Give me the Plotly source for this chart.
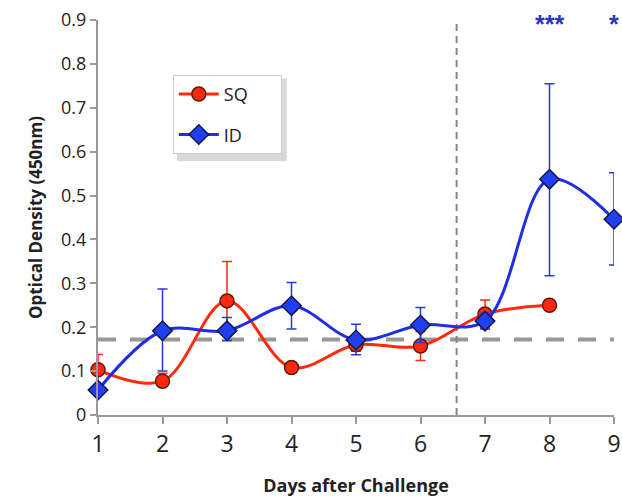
import plotly.graph_objects as go

days = [1, 2, 3, 4, 5, 6, 7, 8, 9]
sq_days = [1, 2, 3, 4, 5, 6, 7, 8]
sq_vals = [0.103, 0.077, 0.26, 0.108, 0.16, 0.157, 0.23, 0.25]
sq_err_up = [0.035, 0.018, 0.09, 0.012, 0.015, 0.033, 0.032, 0.0]
sq_err_dn = [0.035, 0.012, 0.09, 0.012, 0.015, 0.033, 0.032, 0.0]
id_vals = [0.057, 0.192, 0.192, 0.249, 0.171, 0.205, 0.214, 0.537, 0.446]
id_err_up = [0.0, 0.095, 0.03, 0.053, 0.036, 0.04, 0.018, 0.218, 0.106]
id_err_dn = [0.0, 0.092, 0.022, 0.053, 0.034, 0.04, 0.018, 0.22, 0.104]
baseline = 0.172
cutoff_day = 6.56
stars = ["***", "*"]
star_days = [8, 9]
pad = "\u00a0" * 6

fig = go.Figure()

fig.add_trace(go.Scatter(
    x=[1, 9], y=[baseline, baseline], mode="lines",
    line=dict(color="#999999", width=4, dash="18px,14px"),
    showlegend=False, hoverinfo="skip"))

fig.add_trace(go.Scatter(
    x=[cutoff_day, cutoff_day], y=[0, 0.9], mode="lines",
    line=dict(color="#888888", width=2, dash="7px,5px"),
    showlegend=False, hoverinfo="skip"))

fig.add_trace(go.Scatter(
    x=sq_days, y=sq_vals, name="SQ" + pad, mode="lines+markers", legendgroup="sq",
    cliponaxis=False,
    line=dict(color="#ff2a0e", width=3, shape="spline", smoothing=1),
    marker=dict(symbol="circle", size=14, color="#ff2a0e",
                line=dict(color="#5a1a10", width=1.5)),
    error_y=dict(type="data", array=sq_err_up, arrayminus=sq_err_dn,
                 color="#ff2a0e", thickness=1.5, width=5)))

fig.add_trace(go.Scatter(
    x=days, y=id_vals, name="ID" + pad, mode="lines+markers", legendgroup="id",
    cliponaxis=False,
    line=dict(color="#1f2ee6", width=3, shape="spline", smoothing=1),
    marker=dict(symbol="diamond", size=15, color="#1f3ff0",
                line=dict(color="#10184a", width=1.5)),
    error_y=dict(type="data", array=id_err_up, arrayminus=id_err_dn,
                 color="#2a3ad6", thickness=1.5, width=5)))

for s, d in zip(stars, star_days):
    fig.add_annotation(x=d, y=0.9, yshift=-4, text="<b>" + s + "</b>", showarrow=False,
                       font=dict(color="#2a35c0", size=25, family="Liberation Sans"),
                       yanchor="middle", xanchor="center")

# legend shadow
fig.add_shape(type="rect", xref="paper", yref="paper",
              x0=0.153, x1=0.366, y0=0.643, y1=0.851,
              fillcolor="#b8b8b8", line=dict(width=0), layer="above", opacity=0.55)

fig.update_layout(
    width=622, height=497,
    margin=dict(l=98, r=8, t=20, b=82),
    plot_bgcolor="white", paper_bgcolor="white",
    font=dict(family="Open Sans", color="#222222"),
    legend=dict(x=0.145, y=0.861, xanchor="left", yanchor="top",
                bgcolor="white", bordercolor="#cccccc", borderwidth=1,
                font=dict(size=18, family="Open Sans"),
                itemwidth=40, tracegroupgap=14),
    xaxis=dict(range=[1, 9], tickvals=days, showgrid=False, zeroline=False,
               showline=True, linecolor="#999999", linewidth=2, automargin=False,
               ticks="outside", ticklen=7, tickcolor="#999999", tickwidth=2,
               tickfont=dict(size=23),
               title=dict(text="<b>Days after Challenge</b>", font=dict(size=18), standoff=26)),
    yaxis=dict(range=[0, 0.9], dtick=0.1, showgrid=False, zeroline=False,
               showline=True, linecolor="#999999", linewidth=2, automargin=False,
               ticks="outside", ticklen=6, tickcolor="#999999", tickwidth=2,
               tickfont=dict(size=18), tickformat="~g",
               title=dict(text="<b>Optical Density (450nm)</b>", font=dict(size=17), standoff=14)),
)

fig.write_html("out.html", config={"displayModeBar": False},
               post_script="document.body.style.margin='0';document.body.style.overflow='hidden';")
